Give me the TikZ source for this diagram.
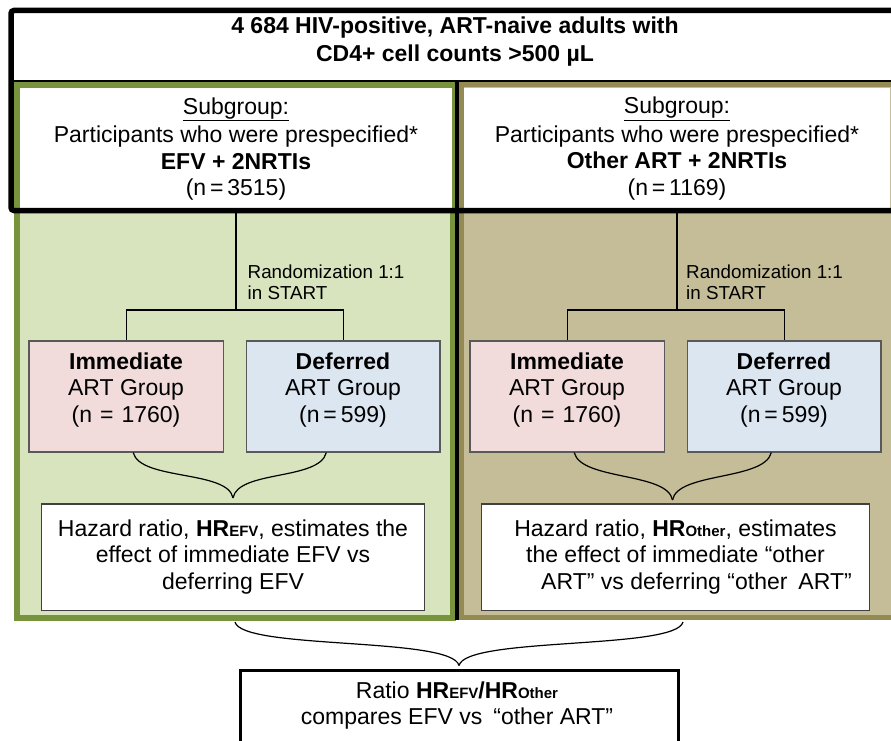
\documentclass[tikz,border=0pt]{standalone}
\usepackage{fontspec}
\setmainfont{Liberation Sans}
\definecolor{gborder}{HTML}{77933C}
\definecolor{gfill}{HTML}{D7E4BD}
\definecolor{tborder}{HTML}{948A54}
\definecolor{tfill}{HTML}{C4BD97}
\definecolor{pinkf}{HTML}{F2DCDB}
\definecolor{bluef}{HTML}{DCE6F1}
\definecolor{boxline}{HTML}{404040}
\definecolor{grpline}{HTML}{595959}
\newcommand{\hrsub}[1]{\textbf{HR{\fontsize{15}{15}\selectfont #1}}}
\begin{document}
\begin{tikzpicture}[x=1pt,y=-1pt,
  txt/.style={align=center, inner sep=0pt, font=\fontsize{23}{26.5}\selectfont},
  sgbox/.style={txt, fill=white, minimum height=121pt},
  grpbox/.style={draw=grpline, line width=1.2pt, minimum height=111pt, inner sep=0pt},
  hrbox/.style={txt, draw=boxline, line width=1.5pt, fill=white, minimum height=106.5pt},
  randlbl/.style={align=left, inner sep=0pt, anchor=west, font=\fontsize{18.8}{21}\selectfont},
  conn/.style={line width=1.3pt, black},
  panelG/.style={draw=gborder, line width=6pt, fill=gfill},
  panelT/.style={draw=tborder, line width=5.5pt, fill=tfill}]
\useasboundingbox (0,0) rectangle (891,741);
\fill[white] (0,0) rectangle (891,741);
% panels
\draw[panelG] (17,85) rectangle (453,618);
\draw[panelT] (461.5,84.5) rectangle (897,617.5);
% header text
\node[txt, font=\fontsize{23}{28}\selectfont\bfseries] (head) at (455,42)
  {4 684 HIV-positive, ART-naive adults with\\CD4+ cell counts >500 µL};
% subgroup boxes
\node[sgbox, minimum width=432pt] (sgL) at (236,149)
  {\underline{Subgroup:}\\[2pt]Participants who were prespecified*\\\textbf{EFV + 2NRTIs}\\(n\,=\,3515)};
\node[sgbox, minimum width=426pt] (sgR) at (677,148.5)
  {\underline{Subgroup:}\\[2pt]Participants who were prespecified*\\\textbf{Other ART + 2NRTIs}\\(n\,=\,1169)};
% dividing lines
\draw[line width=4pt] (457,80) -- (457,620);
\draw[line width=1.5pt] (11,81) -- (891,81);
% group boxes
\node[grpbox, fill=pinkf, minimum width=194.3pt] (immL) at (126.2,396.5) {};
\node[grpbox, fill=bluef, minimum width=193.3pt] (defL) at (343.3,396.5) {};
\node[grpbox, fill=pinkf, minimum width=194.3pt] (immR) at (567.2,396.5) {};
\node[grpbox, fill=bluef, minimum width=193.3pt] (defR) at (784.3,396.5) {};
\node[txt] (immLt) at (126,390) {\textbf{Immediate}\\ART Group\\(n\hspace{8pt}=\hspace{8pt}1760)};
\node[txt] (defLt) at (343,390) {\textbf{Deferred}\\ART Group\\(n\,=\,599)};
\node[txt] (immRt) at (567,390) {\textbf{Immediate}\\ART Group\\(n\hspace{8pt}=\hspace{8pt}1760)};
\node[txt] (defRt) at (784,390) {\textbf{Deferred}\\ART Group\\(n\,=\,599)};
% randomization
\coordinate (jL) at (236,310);
\coordinate (jR) at (677,310);
\draw[conn] (sgL.south) -- (jL);
\draw[conn] (immL.north) |- (jL) -| (defL.north);
\draw[conn] (sgR.south) -- (jR);
\draw[conn] (immR.north) |- (jR) -| (defR.north);
\node[randlbl] (rL) at (247.5,282.2) {Randomization 1:1\\in START};
\node[randlbl] (rR) at (686,282.2) {Randomization 1:1\\in START};
% hazard boxes
\node[hrbox, minimum width=382.6pt] (hazL) at (233,557)
  {Hazard ratio, \hrsub{EFV}, estimates the\\effect of immediate EFV vs\hspace*{46pt}\\deferring EFV};
\node[hrbox, minimum width=387.6pt] (hazR) at (675.5,557)
  {Hazard ratio, \hrsub{Other}, estimates\\the effect of immediate “other\\\hspace*{42pt}ART” vs deferring “other\hspace{11pt}ART”};
% braces to hazard boxes
\coordinate (tipL) at ([yshift=5pt]hazL.north);
\coordinate (tipR) at ([xshift=-3pt,yshift=3pt]hazR.north);
\draw[conn, line width=1.2pt] ([xshift=7pt]immL.south) .. controls +(7,28) and +(-5,-28) .. (tipL);
\draw[conn, line width=1.2pt] ([xshift=-17pt]defL.south) .. controls +(-7,28) and +(5,-28) .. (tipL);
\draw[conn, line width=1.2pt] ([xshift=7pt]immR.south) .. controls +(7,28) and +(-5,-28) .. (tipR);
\draw[conn, line width=1.2pt] ([xshift=-13pt]defR.south) .. controls +(-7,28) and +(5,-28) .. (tipR);
% ratio box
\node[draw, line width=3pt, fill=white, minimum width=438pt, minimum height=80pt, inner sep=0pt] (ratio) at (459,710) {};
\node[txt] (ratiot) at (457,705.5)
  {Ratio \hrsub{EFV}\textbf{/}\hrsub{Other}\\compares EFV vs\hspace{11pt}“other ART”};
\coordinate (bbL) at (235,622);
\coordinate (bbR) at (683,622);
\coordinate (tipB) at ([yshift=3pt]ratio.north);
\draw[conn, line width=1.2pt] (bbL) .. controls +(7,28) and +(-7,-29) .. (tipB);
\draw[conn, line width=1.2pt] (bbR) .. controls +(-7,28) and +(7,-29) .. (tipB);
% outer black frame
\draw[line width=5.5pt, rounded corners=3pt] (11,10.5) rectangle (900,210.5);
\end{tikzpicture}
\end{document}
